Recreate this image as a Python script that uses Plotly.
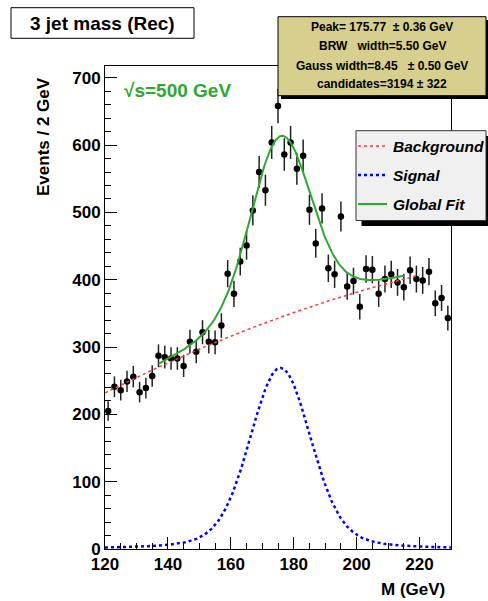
import numpy as np
import plotly.graph_objects as go

# ---------------- data ----------------
bin_centers = [121, 123, 125, 127, 129, 131, 133, 135, 137, 139,
               141, 143, 145, 147, 149, 151, 153, 155, 157, 159,
               161, 163, 165, 167, 169, 171, 173, 175, 177, 179,
               181, 183, 185, 187, 189, 191, 193, 195, 197, 199,
               201, 203, 205, 207, 209, 211, 213, 215, 217, 219,
               221, 223, 225, 227, 229]
counts = [205, 241, 236, 249, 256, 233, 239, 257, 287, 285,
          283, 283, 272, 308, 293, 322, 308, 307, 332, 409,
          379, 427, 451, 503, 560, 533, 604, 658, 586, 604,
          565, 584, 504, 454, 506, 417, 408, 494, 390, 398,
          360, 416, 415, 379, 401, 408, 396, 389, 414, 401,
          399, 412, 365, 373, 343]

# fit parameters (stats box +)
peak_mass = 175.77
bw_width = 5.50
gauss_width = 8.45
signal_peak_height = 269.0
bkg_coeffs = [232.0, 2.345, -0.005952]   # polynomial in (M - 120)
bkg_range = [120, 220]
global_range = [137, 215]
x_range = [120, 230]
y_range = [0, 717.5]

stats_lines = ["Peak= 175.77  \u00b1 0.36 GeV",
               "BRW   width=5.50 GeV",
               "Gauss width=8.45   \u00b1 0.50 GeV",
               "candidates=3194 \u00b1 322"]
legend_names = ["Background", "Signal", "Global Fit"]

# ---------------- curves ----------------
def background(m):
    t = np.asarray(m) - 120.0
    return bkg_coeffs[0] + bkg_coeffs[1] * t + bkg_coeffs[2] * t ** 2

def voigt_shape(m):
    u = np.linspace(-80, 80, 6401)
    du = u[1] - u[0]
    g = np.exp(-0.5 * (u / gauss_width) ** 2)
    m = np.asarray(m)
    out = []
    for mi in m:
        d = mi - peak_mass - u
        lor = (bw_width / 2) / (d ** 2 + (bw_width / 2) ** 2)
        out.append(np.sum(lor * g) * du)
    return np.array(out)

m_all = np.linspace(x_range[0], x_range[1], 441)
vs = voigt_shape(m_all)
vpeak = voigt_shape([peak_mass])[0]
signal = signal_peak_height * vs / vpeak

m_bkg = np.linspace(bkg_range[0], bkg_range[1], 301)
m_glob = np.linspace(global_range[0], global_range[1], 301)
glob = background(m_glob) + signal_peak_height * voigt_shape(m_glob) / vpeak

# ---------------- layout helpers ----------------
W, H = 488, 601
L, R, T, B = 105, 37, 66, 52
PW, PH = W - L - R, H - T - B

def px(x):
    return (x - L) / PW

def py(y):
    return (H - B - y) / PH

GREEN = "#2fa82f"
FONT = "Liberation Sans, Arial, Helvetica, sans-serif"

fig = go.Figure()
fig.add_trace(go.Scatter(
    x=bin_centers, y=counts, mode="markers",
    marker=dict(color="black", size=6.5),
    error_y=dict(type="data", array=np.sqrt(counts), color="#222222",
                 thickness=1.5, width=0),
    showlegend=False))
fig.add_trace(go.Scatter(x=m_all, y=signal, mode="lines",
                         line=dict(color="#0000ff", width=2.5, dash="dot"),
                         showlegend=False))
fig.add_trace(go.Scatter(x=m_bkg, y=background(m_bkg), mode="lines",
                         line=dict(color="#ff3a3a", width=1.5, dash="dot"),
                         showlegend=False))
fig.add_trace(go.Scatter(x=m_glob, y=glob, mode="lines",
                         line=dict(color=GREEN, width=2),
                         showlegend=False))

shapes = []
annotations = []

# title box
shapes.append(dict(type="rect", xref="paper", yref="paper",
                   x0=px(11), x1=px(194), y0=py(38.3), y1=py(7.7),
                   fillcolor="white", line=dict(color="black", width=1),
                   layer="above"))
annotations.append(dict(xref="paper", yref="paper", x=px(102.5), y=py(23),
                        text="<b>3 jet mass (Rec)</b>", showarrow=False,
                        font=dict(size=19, color="black", family=FONT),
                        xanchor="center", yanchor="middle"))

# stats box
shapes.append(dict(type="rect", xref="paper", yref="paper",
                   x0=px(281), x1=px(489), y0=py(99), y1=py(20),
                   fillcolor="black", line=dict(width=0), layer="above"))
shapes.append(dict(type="rect", xref="paper", yref="paper",
                   x0=px(278), x1=px(486), y0=py(95.7), y1=py(16.7),
                   fillcolor="#d6cf8e", line=dict(color="black", width=1),
                   layer="above"))
for i, (txt, yy) in enumerate(zip(stats_lines, [26.7, 46, 65.7, 84.3])):
    annotations.append(dict(xref="paper", yref="paper", x=px(382), y=py(yy),
                            text="<b>" + txt.replace("  ", "&nbsp; ") + "</b>",
                            showarrow=False,
                            font=dict(size=12, color="black", family=FONT),
                            xanchor="center", yanchor="middle"))

# legend
shapes.append(dict(type="rect", xref="paper", yref="paper",
                   x0=px(361.5), x1=px(491), y0=py(226), y1=py(136),
                   fillcolor="black", line=dict(width=0), layer="above"))
shapes.append(dict(type="rect", xref="paper", yref="paper",
                   x0=px(356), x1=px(486), y0=py(220.5), y1=py(130.7),
                   fillcolor="#f0f0f0", line=dict(color="#333333", width=1),
                   layer="above"))
leg_styles = [dict(color="#ff3a3a", width=1.5, dash="dot"),
              dict(color="#0000ff", width=2.5, dash="dot"),
              dict(color=GREEN, width=2)]
for name, st, yy in zip(legend_names, leg_styles, [146, 175, 204]):
    shapes.append(dict(type="line", xref="paper", yref="paper",
                       x0=px(358), x1=px(387), y0=py(yy), y1=py(yy),
                       line=st, layer="above"))
    annotations.append(dict(xref="paper", yref="paper", x=px(390.5), y=py(yy),
                            text="<b><i>" + name + "</i></b>", showarrow=False,
                            font=dict(size=15.5, color="black", family=FONT),
                            xanchor="left", yanchor="middle"))

# sqrt(s) label
annotations.append(dict(xref="paper", yref="paper", x=px(122), y=py(90.7),
                        text="<b>\u221As=500 GeV</b>", showarrow=False,
                        font=dict(size=19, color=GREEN, family=FONT),
                        xanchor="left", yanchor="middle"))

# axis titles
annotations.append(dict(xref="paper", yref="paper", x=px(447), y=py(589),
                        text="<b>M (GeV)</b>", showarrow=False,
                        font=dict(size=17, color="black", family=FONT),
                        xanchor="right", yanchor="middle"))
annotations.append(dict(xref="paper", yref="paper", x=px(43), y=py(137),
                        text="<b>Events / 2 GeV</b>", showarrow=False,
                        textangle=-90,
                        font=dict(size=17, color="black", family=FONT),
                        xanchor="center", yanchor="middle"))

axis_common = dict(showline=True, linecolor="black", linewidth=1, mirror=True,
                   ticks="inside", ticklen=12, tickwidth=1, tickcolor="black",
                   showgrid=False, zeroline=False,
                   tickfont=dict(size=17, color="black", family=FONT,
                                 weight="bold"))
fig.update_xaxes(range=x_range, tick0=120, dtick=20,
                 minor=dict(dtick=5, ticks="inside", ticklen=6,
                            tickcolor="black", showgrid=False),
                 **axis_common)
fig.update_yaxes(range=y_range, tick0=0, dtick=100,
                 minor=dict(dtick=20, ticks="inside", ticklen=6,
                            tickcolor="black", showgrid=False),
                 **axis_common)

fig.update_layout(width=W, height=H,
                  margin=dict(l=L, r=R, t=T, b=B, pad=0),
                  paper_bgcolor="white", plot_bgcolor="white",
                  showlegend=False, shapes=shapes, annotations=annotations,
                  font=dict(family=FONT))

fig.write_html("out.html",
               config={"displayModeBar": False},
               post_script="document.body.style.margin='0px';"
                           "document.body.style.overflow='hidden';")
